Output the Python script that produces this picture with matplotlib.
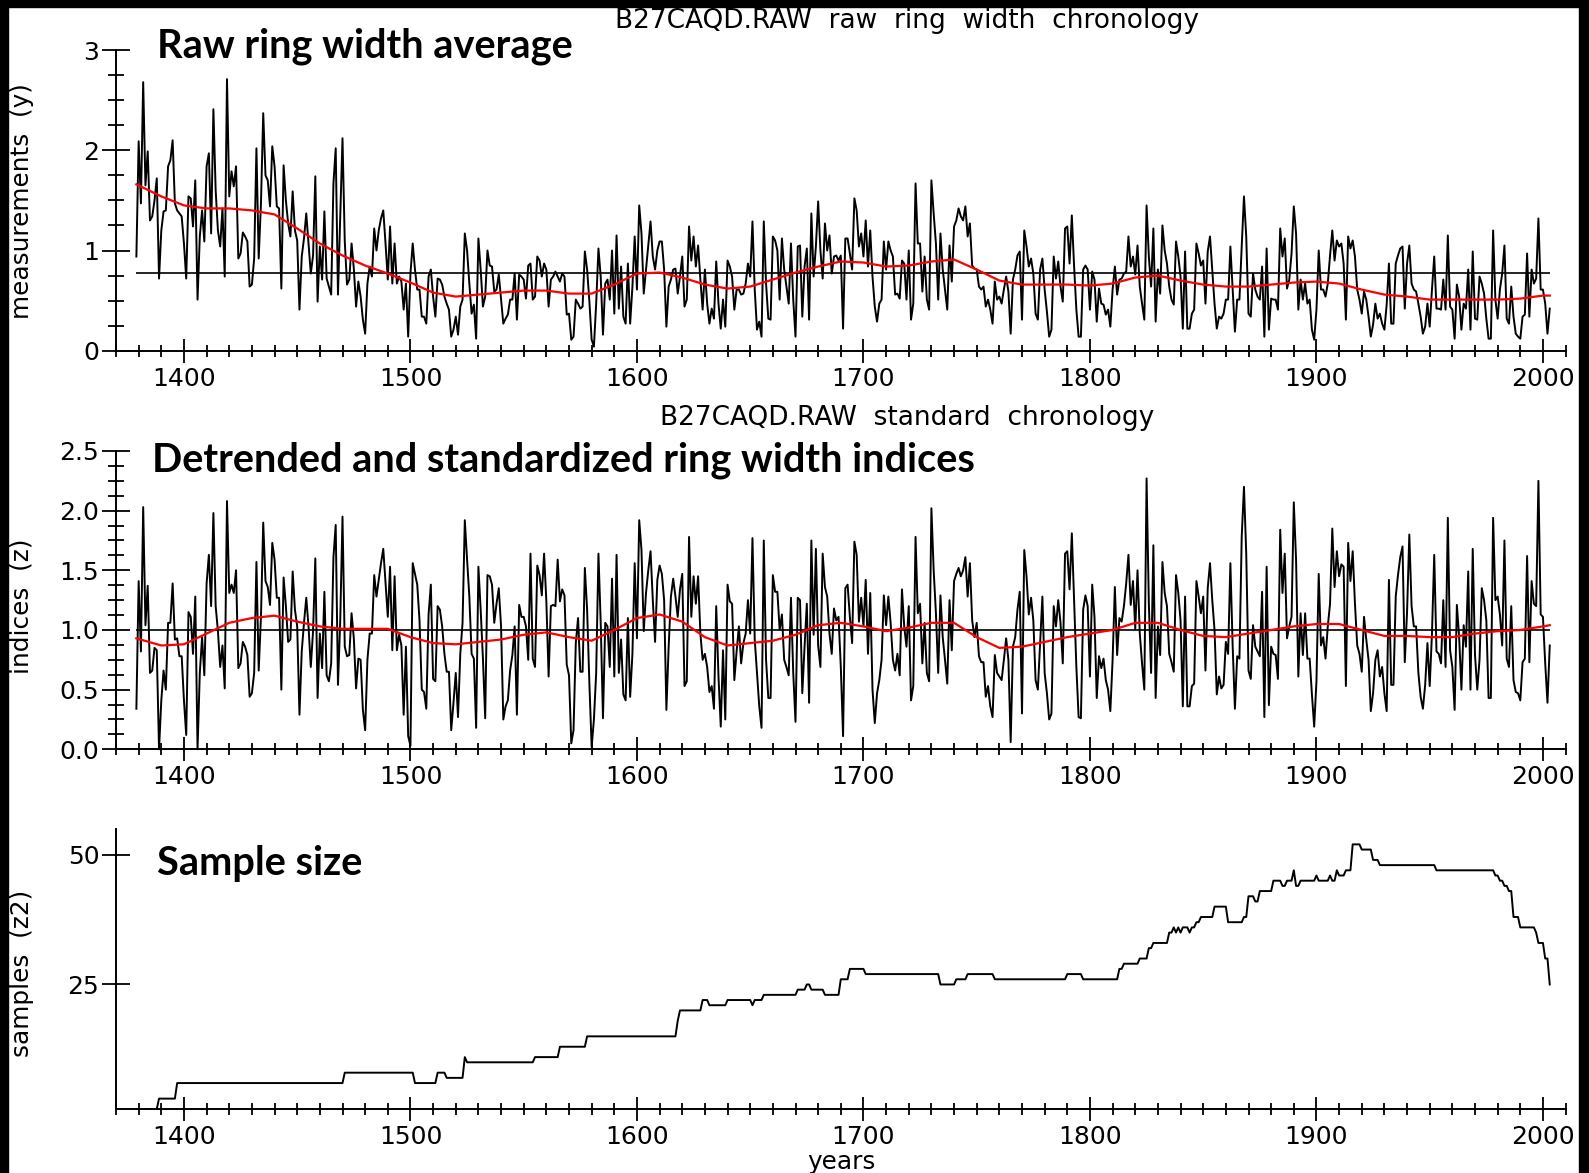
import numpy as np
import matplotlib.pyplot as plt
import matplotlib.ticker as mticker
from matplotlib.patches import Rectangle

W, H = 1589, 1173

first_year = 1379

# raw ring width average, one value per year from 1379
raw_width = [
    0.94,
    2.09, 1.47, 2.68, 1.65, 1.99, 1.30, 1.34, 1.50, 1.72, 0.72,
    1.20, 1.39, 1.40, 1.84, 1.90, 2.10, 1.47, 1.40, 1.37, 1.34,
    1.07, 0.72, 1.54, 1.52, 1.24, 1.70, 0.51, 1.14, 1.40, 1.09,
    1.84, 1.97, 1.17, 2.41, 1.60, 1.20, 1.04, 1.42, 0.74, 2.71,
    1.54, 1.79, 1.64, 1.84, 0.92, 0.97, 1.18, 1.14, 1.09, 0.64,
    0.66, 0.92, 2.02, 0.92, 1.47, 2.37, 1.75, 1.70, 1.44, 2.04,
    1.84, 1.44, 1.42, 0.62, 1.85, 1.50, 1.27, 1.14, 1.59, 1.20,
    1.10, 0.41, 0.94, 1.12, 1.37, 1.07, 0.77, 0.95, 1.74, 0.49,
    1.04, 0.71, 1.39, 0.72, 0.64, 0.56, 1.67, 2.02, 0.56, 1.34,
    2.12, 1.09, 0.66, 0.71, 1.07, 0.82, 0.44, 0.69, 0.54, 0.31,
    0.17, 0.67, 0.84, 0.74, 1.22, 1.00, 1.20, 1.32, 1.40, 1.07,
    0.71, 1.24, 0.67, 1.07, 0.67, 0.74, 0.69, 0.41, 0.67, 0.14,
    0.77, 1.07, 0.81, 0.61, 0.61, 0.34, 0.34, 0.27, 0.74, 0.81,
    0.54, 0.34, 0.72, 0.71, 0.66, 0.54, 0.47, 0.41, 0.14, 0.21,
    0.34, 0.16, 0.44, 0.51, 1.17, 1.00, 0.67, 0.37, 0.46, 0.12,
    1.12, 0.81, 0.44, 0.54, 1.00, 0.85, 0.84, 0.59, 0.61, 0.76,
    0.51, 0.27, 0.32, 0.36, 0.51, 0.51, 0.77, 0.31, 0.76, 0.74,
    0.71, 0.52, 0.85, 0.87, 0.51, 0.54, 0.94, 0.90, 0.74, 0.87,
    0.81, 0.44, 0.71, 0.74, 0.79, 0.74, 0.69, 0.77, 0.74, 0.36,
    0.37, 0.11, 0.14, 0.51, 0.47, 0.42, 0.44, 0.99, 0.81, 0.49,
    0.11, 0.04, 0.47, 1.02, 0.74, 0.16, 0.67, 0.71, 0.51, 1.00,
    0.37, 1.15, 0.42, 0.84, 0.34, 0.27, 0.87, 0.27, 0.64, 1.14,
    0.61, 1.45, 1.17, 0.57, 0.81, 1.04, 1.29, 0.94, 0.81, 1.00,
    1.09, 1.09, 0.81, 0.24, 0.64, 0.71, 0.81, 0.82, 0.57, 0.74,
    0.94, 0.44, 0.51, 1.24, 0.90, 1.14, 0.84, 1.05, 0.71, 0.41,
    0.81, 0.47, 0.27, 0.42, 0.32, 0.89, 0.47, 0.22, 0.51, 0.24,
    0.90, 0.84, 0.74, 0.41, 0.61, 0.61, 0.56, 0.57, 0.67, 0.87,
    0.74, 1.29, 0.61, 0.21, 0.29, 0.14, 1.29, 0.67, 0.32, 0.31,
    1.14, 1.10, 1.00, 0.51, 1.12, 0.81, 0.64, 0.47, 1.07, 0.51,
    0.14, 1.04, 1.05, 0.34, 0.84, 1.02, 0.31, 1.37, 0.74, 1.04,
    1.49, 1.00, 0.72, 1.27, 1.00, 1.15, 0.77, 0.94, 0.95, 0.90,
    0.95, 0.22, 1.12, 1.12, 0.97, 0.81, 1.52, 1.40, 1.04, 1.17,
    0.94, 1.30, 0.84, 1.20, 0.74, 0.44, 0.29, 0.47, 0.51, 1.09,
    0.81, 1.09, 1.00, 0.94, 0.56, 0.57, 0.52, 0.90, 0.87, 0.51,
    1.00, 0.31, 0.47, 1.67, 1.07, 1.07, 0.59, 0.94, 0.51, 0.41,
    1.70, 1.37, 1.07, 0.51, 1.17, 0.81, 0.61, 0.41, 1.05, 0.69,
    1.24, 1.30, 1.42, 1.34, 1.30, 1.44, 1.14, 1.27, 0.85, 0.82,
    0.81, 0.64, 0.61, 0.64, 0.44, 0.51, 0.41, 0.27, 0.69, 0.51,
    0.54, 0.47, 0.61, 0.74, 0.59, 0.17, 0.71, 0.81, 0.95, 0.99,
    0.31, 1.20, 1.04, 0.84, 0.92, 0.77, 0.37, 0.31, 0.81, 0.92,
    0.61, 0.39, 0.14, 0.21, 0.94, 0.72, 0.89, 0.64, 0.49, 1.22,
    1.24, 0.87, 1.35, 0.84, 0.41, 0.14, 0.14, 0.81, 0.85, 0.81,
    0.41, 0.79, 0.71, 0.29, 0.62, 0.47, 0.46, 0.36, 0.41, 0.24,
    0.61, 0.84, 0.56, 0.71, 0.72, 0.77, 0.79, 1.14, 0.84, 0.94,
    0.76, 1.05, 0.64, 0.47, 0.31, 1.45, 0.94, 0.64, 1.22, 0.29,
    0.81, 0.57, 1.25, 1.00, 0.87, 0.64, 0.51, 0.46, 1.09, 0.94,
    0.74, 0.22, 0.99, 0.22, 0.22, 0.37, 0.41, 1.07, 0.97, 0.85,
    0.90, 0.47, 0.99, 1.14, 0.81, 0.47, 0.22, 0.34, 0.32, 0.37,
    0.51, 0.51, 1.04, 0.61, 0.19, 0.51, 0.51, 1.04, 1.54, 1.14,
    0.37, 0.34, 0.77, 0.61, 0.54, 0.51, 0.84, 0.14, 1.02, 0.21,
    0.52, 0.51, 0.51, 0.41, 1.22, 0.94, 1.12, 0.62, 0.71, 0.97,
    1.44, 1.17, 0.41, 0.71, 0.51, 0.67, 0.47, 0.51, 0.21, 0.11,
    0.41, 1.00, 0.61, 0.61, 0.54, 0.67, 0.95, 1.20, 0.90, 1.10,
    1.04, 1.07, 0.87, 0.31, 1.14, 1.02, 1.10, 0.94, 0.61, 0.51,
    0.37, 0.59, 0.51, 0.34, 0.14, 0.26, 0.47, 0.32, 0.37, 0.27,
    0.21, 0.46, 0.87, 0.27, 0.27, 0.87, 0.95, 1.02, 1.04, 0.42,
    0.87, 1.05, 0.67, 0.61, 0.59, 0.47, 0.34, 0.17, 0.24, 0.47,
    0.24, 0.61, 0.94, 0.42, 0.42, 0.41, 0.71, 0.41, 1.15, 0.44,
    0.41, 0.12, 0.66, 0.54, 0.21, 0.47, 0.42, 0.81, 0.21, 0.99,
    0.32, 0.31, 0.74, 0.67, 0.57, 0.32, 0.12, 0.12, 1.20, 0.51,
    0.32, 0.61, 0.77, 1.05, 0.32, 0.27, 0.64, 0.34, 0.17, 0.14,
    0.12, 0.34, 0.36, 0.97, 0.34, 0.81, 0.67, 0.72, 1.32, 0.61,
    0.61, 0.47, 0.17, 0.42,
]
raw_mean = 0.78

raw_spline_years = [1379] + list(range(1390, 2001, 10)) + [2003]
raw_spline = [
    1.66, 1.54, 1.45, 1.42, 1.42, 1.40, 1.36, 1.22, 1.07, 0.95,
    0.85, 0.77, 0.68, 0.58, 0.54, 0.56, 0.58, 0.60, 0.60, 0.57,
    0.57, 0.66, 0.77, 0.78, 0.73, 0.66, 0.62, 0.64, 0.71, 0.78,
    0.84, 0.89, 0.88, 0.84, 0.85, 0.89, 0.91, 0.81, 0.70, 0.66,
    0.66, 0.66, 0.65, 0.67, 0.73, 0.75, 0.70, 0.66, 0.64, 0.64,
    0.66, 0.68, 0.69, 0.67, 0.61, 0.56, 0.54, 0.51, 0.51, 0.51,
    0.51, 0.52, 0.55, 0.55,
]

# detrended and standardized indices, one value per year from 1379
index_values = [
    0.34,
    1.41, 0.82, 2.03, 1.04, 1.37, 0.64, 0.66, 0.85, 0.83, 0.00,
    0.41, 0.66, 0.50, 1.06, 1.06, 1.39, 0.92, 0.93, 0.78, 0.78,
    0.41, 0.12, 1.15, 1.11, 0.80, 1.28, 0.00, 0.64, 0.94, 0.62,
    1.39, 1.63, 1.20, 1.98, 1.20, 0.99, 0.69, 0.87, 0.51, 2.08,
    1.31, 1.38, 1.31, 1.50, 0.68, 0.72, 0.90, 0.86, 0.79, 0.44,
    0.47, 0.64, 1.57, 0.66, 1.11, 1.90, 1.41, 1.36, 1.21, 1.73,
    1.59, 1.27, 1.27, 0.50, 1.44, 1.20, 0.90, 0.92, 1.49, 1.17,
    1.03, 0.29, 0.82, 1.06, 1.27, 1.03, 0.69, 0.99, 1.60, 0.43,
    0.97, 0.68, 1.32, 0.62, 0.57, 0.72, 1.61, 1.88, 0.54, 1.08,
    1.95, 0.86, 0.78, 0.79, 1.14, 0.93, 0.51, 0.76, 0.75, 0.33,
    0.16, 0.75, 0.97, 0.97, 1.46, 1.28, 1.42, 1.56, 1.68, 1.39,
    1.11, 1.53, 0.83, 1.45, 0.83, 0.96, 0.87, 0.29, 0.86, 0.11,
    0.03, 1.56, 1.47, 1.38, 1.08, 0.50, 0.48, 0.34, 1.13, 1.38,
    0.59, 0.57, 1.20, 1.17, 1.03, 0.80, 0.65, 0.65, 0.16, 0.39,
    0.64, 0.27, 0.80, 1.06, 1.92, 1.59, 1.28, 0.80, 0.76, 0.18,
    1.53, 1.17, 0.76, 0.26, 1.46, 1.45, 1.38, 1.06, 1.22, 1.35,
    1.03, 0.25, 0.36, 0.41, 0.66, 0.79, 1.03, 0.29, 1.21, 1.11,
    1.11, 1.03, 0.75, 1.64, 0.76, 0.69, 1.54, 1.46, 1.29, 1.64,
    1.24, 0.61, 1.20, 1.21, 1.20, 1.59, 1.24, 1.34, 1.29, 0.71,
    0.62, 0.05, 0.16, 0.89, 1.10, 0.65, 0.65, 1.52, 1.17, 0.55,
    0.02, 0.25, 0.64, 1.64, 1.06, 0.26, 1.06, 1.03, 0.69, 1.43,
    0.61, 1.63, 0.64, 0.92, 0.46, 0.41, 1.10, 0.44, 0.80, 1.56,
    0.93, 1.92, 1.67, 0.99, 1.31, 1.50, 1.66, 1.25, 0.90, 1.42,
    1.54, 1.47, 1.25, 0.33, 0.86, 1.28, 1.43, 1.28, 1.11, 1.34,
    1.47, 0.53, 0.57, 1.78, 1.11, 1.45, 1.22, 1.45, 0.97, 0.75,
    0.80, 0.69, 0.48, 0.53, 0.34, 1.20, 0.61, 0.19, 0.83, 0.25,
    1.38, 1.24, 1.22, 0.58, 0.82, 1.03, 0.72, 0.89, 0.97, 1.25,
    0.97, 1.77, 0.92, 0.64, 0.36, 0.18, 1.75, 0.75, 0.43, 0.43,
    1.46, 1.32, 1.32, 1.00, 1.13, 0.75, 0.69, 0.62, 1.27, 0.64,
    0.23, 1.27, 1.25, 0.47, 0.86, 1.22, 0.39, 1.75, 0.96, 1.68,
    0.87, 0.69, 1.64, 1.36, 1.28, 0.97, 0.80, 1.18, 1.08, 1.11,
    0.69, 0.11, 1.35, 1.38, 1.11, 0.89, 1.74, 1.63, 1.07, 1.27,
    1.03, 1.42, 0.80, 1.31, 0.50, 0.22, 0.47, 0.58, 0.75, 1.29,
    1.04, 1.28, 1.06, 0.75, 0.66, 0.80, 0.62, 1.34, 1.03, 0.86,
    1.20, 0.41, 0.53, 1.78, 1.14, 1.22, 0.72, 1.06, 0.64, 0.57,
    2.02, 1.50, 1.14, 0.64, 1.29, 0.94, 0.75, 0.55, 1.25, 0.83,
    1.41, 1.47, 1.52, 1.45, 1.50, 1.61, 1.28, 1.56, 1.08, 0.94,
    1.06, 0.78, 0.73, 0.73, 0.44, 0.53, 0.36, 0.27, 0.79, 0.64,
    0.61, 0.58, 0.75, 0.93, 0.75, 0.06, 0.86, 0.94, 1.17, 1.32,
    0.30, 1.67, 1.45, 1.13, 1.27, 1.08, 0.58, 0.50, 0.89, 1.28,
    0.64, 0.47, 0.25, 0.30, 1.20, 1.03, 1.25, 1.06, 0.72, 1.64,
    1.66, 1.34, 1.81, 1.25, 0.69, 0.27, 0.26, 1.17, 1.29, 1.20,
    0.61, 1.38, 1.11, 0.43, 0.78, 0.68, 0.76, 0.58, 0.50, 0.32,
    0.75, 1.36, 0.79, 1.10, 1.07, 1.20, 1.39, 1.63, 1.21, 1.41,
    1.01, 1.50, 0.97, 0.72, 0.50, 2.27, 1.22, 0.64, 1.71, 0.43,
    1.03, 0.79, 1.57, 1.31, 1.20, 0.80, 0.73, 0.65, 1.46, 1.31,
    1.08, 0.36, 1.28, 0.36, 0.36, 0.53, 0.55, 1.41, 1.28, 1.14,
    1.28, 0.66, 1.35, 1.56, 1.25, 1.00, 0.46, 0.61, 0.51, 0.54,
    0.90, 0.80, 1.56, 0.87, 0.34, 0.78, 0.76, 1.78, 2.20, 1.64,
    0.66, 0.59, 1.04, 0.86, 0.82, 0.78, 1.32, 0.27, 1.53, 0.37,
    0.86, 0.80, 0.79, 0.59, 1.84, 1.31, 1.64, 0.93, 1.03, 1.11,
    2.07, 1.59, 0.61, 1.14, 0.79, 1.14, 0.76, 0.76, 0.46, 0.19,
    0.57, 1.47, 0.87, 0.94, 0.76, 1.03, 1.22, 1.85, 1.36, 1.66,
    1.45, 1.55, 1.53, 0.53, 1.73, 1.41, 1.66, 1.22, 0.87, 0.80,
    0.65, 1.11, 0.92, 0.75, 0.32, 0.47, 0.75, 0.83, 0.61, 0.69,
    0.47, 0.32, 1.42, 0.54, 0.54, 1.28, 1.46, 1.61, 1.70, 0.73,
    1.15, 1.80, 1.20, 1.03, 1.03, 0.64, 0.44, 0.34, 0.54, 0.89,
    0.53, 0.97, 1.63, 0.82, 0.80, 0.72, 1.25, 0.69, 1.94, 0.83,
    0.69, 0.33, 1.21, 0.94, 0.50, 1.04, 0.86, 1.49, 0.50, 1.68,
    0.79, 0.50, 0.75, 1.35, 1.25, 1.08, 0.43, 0.43, 1.94, 1.25,
    1.28, 1.13, 0.87, 1.75, 0.76, 0.69, 1.20, 0.58, 0.48, 0.47,
    0.41, 0.73, 0.76, 1.62, 0.73, 1.41, 1.22, 1.20, 2.25, 1.13,
    1.11, 0.72, 0.39, 0.87,
]
index_mean = 1.0

index_spline_years = [1379] + list(range(1390, 2001, 10)) + [2003]
index_spline = [
    0.93, 0.87, 0.88, 0.97, 1.06, 1.10, 1.12, 1.07, 1.03, 1.01,
    1.01, 1.01, 0.94, 0.89, 0.88, 0.90, 0.92, 0.96, 0.98, 0.94,
    0.91, 1.00, 1.10, 1.13, 1.07, 0.94, 0.87, 0.89, 0.91, 0.96,
    1.04, 1.06, 1.03, 0.99, 1.02, 1.06, 1.06, 0.94, 0.85, 0.86,
    0.90, 0.94, 0.97, 1.00, 1.06, 1.06, 1.00, 0.95, 0.94, 0.97,
    1.00, 1.03, 1.05, 1.05, 1.00, 0.95, 0.95, 0.94, 0.94, 0.97,
    0.99, 1.00, 1.03, 1.04,
]

# number of samples: year where the count changes, and the new count
sample_years = [
    1379, 1389, 1397, 1471, 1502, 1512, 1516, 1524, 1525, 1555,
    1566, 1578, 1618, 1619, 1629, 1632, 1640, 1651, 1652, 1656,
    1671, 1675, 1677, 1683, 1690, 1694, 1701, 1734, 1741, 1746,
    1758, 1790, 1797, 1813, 1815, 1822, 1826, 1828, 1835, 1837,
    1838, 1839, 1840, 1841, 1843, 1844, 1845, 1847, 1849, 1855,
    1861, 1868, 1870, 1873, 1875, 1881, 1885, 1887, 1890, 1891,
    1893, 1900, 1901, 1906, 1907, 1909, 1910, 1913, 1916, 1920,
    1925, 1928, 1953, 1979, 1981, 1983, 1985, 1987, 1990, 1997,
    1998, 2001, 2003,
]
sample_counts = [
    1, 3, 6, 8, 6, 8, 7, 11, 10, 11,
    13, 15, 18, 20, 22, 21, 22, 21, 22, 23,
    24, 25, 24, 23, 26, 28, 27, 25, 26, 27,
    26, 27, 26, 28, 29, 30, 32, 33, 35, 36,
    35, 36, 35, 36, 36, 35, 36, 37, 38, 40,
    37, 38, 42, 41, 43, 45, 44, 45, 47, 44,
    45, 46, 45, 46, 45, 47, 46, 47, 52, 51,
    49, 48, 47, 46, 45, 44, 43, 38, 36, 35,
    33, 30, 25,
]

raw_years = first_year + np.arange(len(raw_width))
index_years = first_year + np.arange(len(index_values))

# the sample count holds until the next change year -> one value per year
spans = np.diff(sample_years + [sample_years[-1] + 1])
sample_per_year = np.repeat(sample_counts, spans)
sample_axis_years = sample_years[0] + np.arange(len(sample_per_year))

plt.rcParams['font.family'] = 'DejaVu Sans'


def pos(left, top, right, bottom):
    # pixel box (from the top-left corner) -> figure fraction
    return [left / W, 1 - bottom / H, (right - left) / W, (bottom - top) / H]


fig = plt.figure(figsize=(W / 100, H / 100), dpi=100)

ax1 = fig.add_axes(pos(116, 50.1, 1565.6, 350.7))
ax2 = fig.add_axes(pos(116, 451, 1565.6, 749.3))
ax3 = fig.add_axes(pos(116, 828.8, 1565.6, 1109))

for ax in (ax1, ax2, ax3):
    ax.set_xlim(1370, 2010)
    ax.patch.set_visible(False)
    ax.spines[['top', 'right']].set_visible(False)
    ax.spines[['left', 'bottom']].set_linewidth(1.4)
    ax.xaxis.set_major_locator(mticker.MultipleLocator(100))
    ax.xaxis.set_minor_locator(mticker.MultipleLocator(10))
    ax.tick_params(axis='x', which='major', direction='inout', length=17,
                   width=1.3, pad=3, labelsize=18)
    ax.tick_params(axis='x', which='minor', direction='inout', length=8.5,
                   width=1.3)
    ax.tick_params(axis='y', which='major', direction='inout', length=20,
                   width=1.3, pad=2, labelsize=18)
    ax.tick_params(axis='y', which='minor', direction='inout', length=11,
                   width=1.3)

# raw ring width
ax1.set_ylim(0, 3)
ax1.yaxis.set_major_locator(mticker.MultipleLocator(1))
ax1.yaxis.set_minor_locator(mticker.MultipleLocator(0.25))
ax1.yaxis.set_major_formatter(mticker.FormatStrFormatter('%d'))
ax1.plot(raw_years, raw_width, color='black', lw=1.4, clip_on=False)
ax1.hlines(raw_mean, raw_years[0], raw_years[-1], color='black', lw=1.2)
ax1.plot(raw_spline_years, raw_spline, color='red', lw=1.6)

# standardized indices
ax2.set_ylim(0, 2.5)
ax2.yaxis.set_major_locator(mticker.MultipleLocator(0.5))
ax2.yaxis.set_minor_locator(mticker.MultipleLocator(0.125))
ax2.yaxis.set_major_formatter(mticker.FormatStrFormatter('%.1f'))
ax2.plot(index_years, index_values, color='black', lw=1.4, clip_on=False)
ax2.hlines(index_mean, index_years[0], index_years[-1], color='black', lw=1.2)
ax2.plot(index_spline_years, index_spline, color='red', lw=1.6)

# sample depth
ax3.set_ylim(1, 55)
ax3.yaxis.set_major_locator(mticker.FixedLocator([25, 50]))
ax3.yaxis.set_minor_locator(mticker.NullLocator())
ax3.plot(sample_axis_years, sample_per_year, color='black', lw=1.4,
         clip_on=False)

# axis titles and labels
fig.text(907 / W, 1 - 21.5 / H, 'B27CAQD.RAW  raw  ring  width  chronology',
         ha='center', va='center', fontsize=19)
fig.text(907 / W, 1 - 418 / H, 'B27CAQD.RAW  standard  chronology',
         ha='center', va='center', fontsize=19)
fig.text(22 / W, 1 - 201 / H, 'measurements  (y)', rotation=90,
         ha='center', va='center', fontsize=17.8)
fig.text(22 / W, 1 - 606 / H, 'indices  (z)', rotation=90,
         ha='center', va='center', fontsize=17.8)
fig.text(22 / W, 1 - 973 / H, 'samples  (z2)', rotation=90,
         ha='center', va='center', fontsize=17.8)
fig.text(841 / W, 1 - 1162 / H, 'years', ha='center', va='center',
         fontsize=17.8)

# bold panel headings
bold = dict(family=['Lato', 'DejaVu Sans'], fontweight='bold', fontsize=28.6,
            ha='left', va='center')
fig.text(157 / W, 1 - 46 / H, 'Raw ring width average', **bold)
fig.text(152 / W, 1 - 460 / H, 'Detrended and standardized ring width indices',
         **bold)
fig.text(157 / W, 1 - 863 / H, 'Sample size', **bold)

# black frame on the top, left and right edges
for x0, y0, w, h in [(0, 0, 8, H), (0, 0, W, 7), (W - 10, 0, 10, H)]:
    fig.add_artist(Rectangle((x0 / W, 1 - (y0 + h) / H), w / W, h / H,
                             transform=fig.transFigure, color='black',
                             zorder=10))

fig.savefig('out.png', dpi=100)
